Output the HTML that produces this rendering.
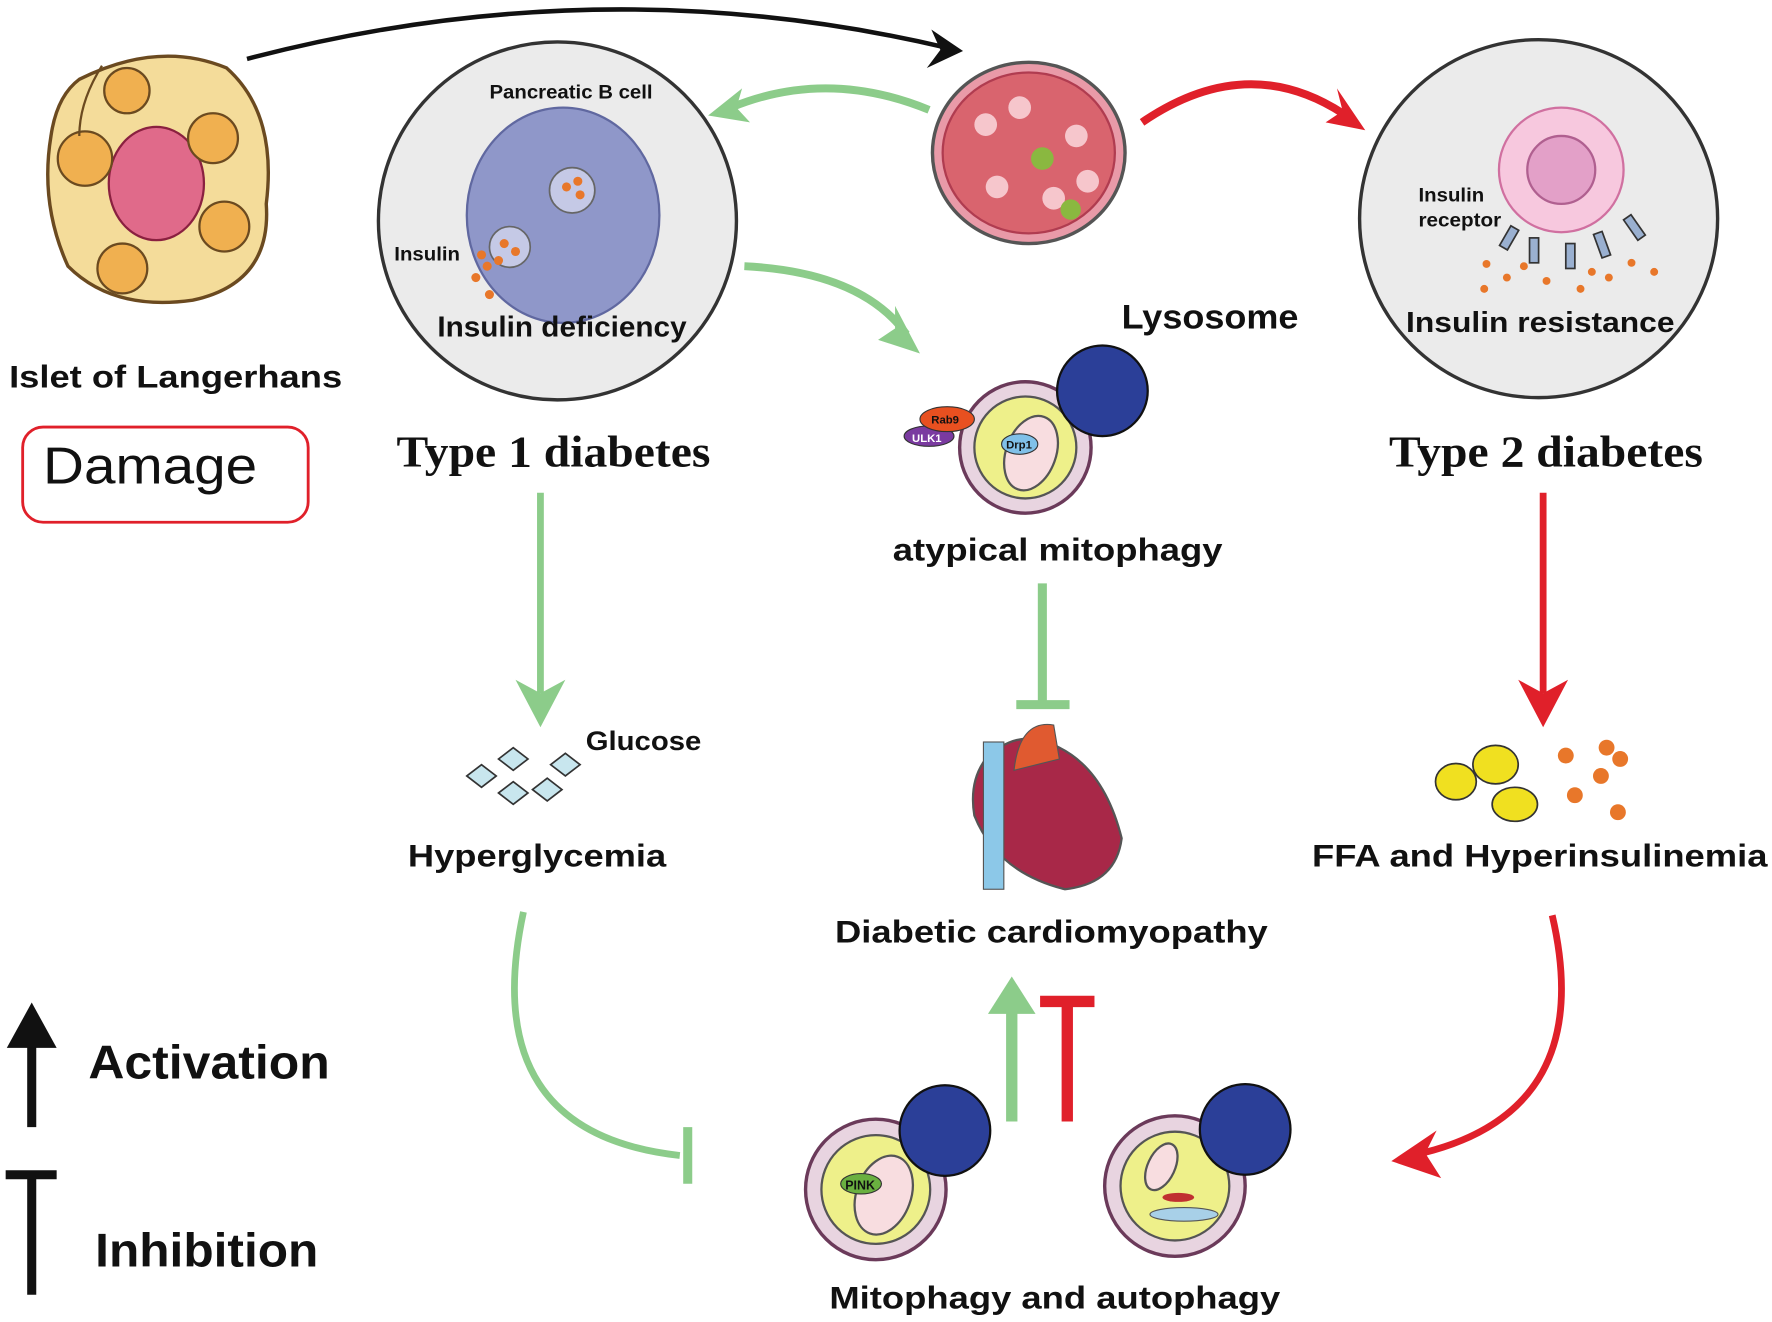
<!DOCTYPE html>
<html><head><meta charset="utf-8"><style>
html,body{margin:0;padding:0;background:#fff;}
svg{display:block;}
text{font-family:"Liberation Sans",sans-serif;font-weight:bold;fill:#111;}
.serif{font-family:"Liberation Serif",serif;}
</style></head><body>
<svg width="1772" height="1322" viewBox="0 0 1564 1167" preserveAspectRatio="none">
<!-- top black arrow -->
<path d="M218,52 Q530,-30 835,42" fill="none" stroke="#111" stroke-width="4"/>
<path d="M850,45 L822,26 L830,44 L818,60z" fill="#111"/>
<!-- islet -->
<path d="M70,70 Q140,35 200,60 Q245,100 235,180 Q240,250 170,265 Q100,275 60,235 Q35,180 45,120 Q50,85 70,70z" fill="#f4dc9a" stroke="#6b4a20" stroke-width="3"/>
<ellipse cx="138" cy="162" rx="42" ry="50" fill="#e06a8a" stroke="#8a2040" stroke-width="2"/>
<circle cx="75" cy="140" r="24" fill="#f0b050" stroke="#6b4a20" stroke-width="2"/>
<circle cx="188" cy="122" r="22" fill="#f0b050" stroke="#6b4a20" stroke-width="2"/>
<circle cx="198" cy="200" r="22" fill="#f0b050" stroke="#6b4a20" stroke-width="2"/>
<circle cx="108" cy="237" r="22" fill="#f0b050" stroke="#6b4a20" stroke-width="2"/>
<circle cx="112" cy="80" r="20" fill="#f0b050" stroke="#6b4a20" stroke-width="2"/>
<path d="M90,58 Q70,90 70,120" fill="none" stroke="#6b4a20" stroke-width="2"/>
<text x="8" y="342" font-size="28" textLength="294" lengthAdjust="spacingAndGlyphs">Islet of Langerhans</text>
<rect x="20" y="377" width="252" height="84" rx="18" fill="#fff" stroke="#e0202a" stroke-width="2.5"/>
<text x="38" y="427" font-size="46" style="font-weight:normal" textLength="189" lengthAdjust="spacingAndGlyphs">Damage</text>
<!-- T1 circle -->
<circle cx="492" cy="195" r="158" fill="#ebebeb" stroke="#333" stroke-width="3"/>
<ellipse cx="497" cy="190" rx="85" ry="95" fill="#8f97c9" stroke="#6068a0" stroke-width="2"/>
<circle cx="505" cy="168" r="20" fill="#c5c9e6" stroke="#666" stroke-width="1.5"/>
<circle cx="450" cy="218" r="18" fill="#c5c9e6" stroke="#666" stroke-width="1.5"/>
<g fill="#e8772a"><circle cx="500" cy="165" r="4"/><circle cx="510" cy="160" r="4"/><circle cx="512" cy="172" r="4"/><circle cx="445" cy="215" r="4"/><circle cx="455" cy="222" r="4"/><circle cx="430" cy="235" r="4"/><circle cx="440" cy="230" r="4"/><circle cx="420" cy="245" r="4"/><circle cx="432" cy="260" r="4"/><circle cx="425" cy="225" r="4"/></g>
<text x="432" y="87" font-size="17" textLength="144" lengthAdjust="spacingAndGlyphs">Pancreatic B cell</text>
<text x="348" y="230" font-size="17" textLength="58" lengthAdjust="spacingAndGlyphs">Insulin</text>
<text x="386" y="297" font-size="25" textLength="220" lengthAdjust="spacingAndGlyphs">Insulin deficiency</text>
<text x="350" y="412" font-size="39" class="serif" textLength="277" lengthAdjust="spacingAndGlyphs">Type 1 diabetes</text>
<!-- green arrow top -->
<path d="M820,97 Q730,60 645,95" fill="none" stroke="#8ccc8a" stroke-width="7"/>
<path d="M625,102 L655,78 L650,95 L662,108z" fill="#8ccc8a"/>
<!-- tissue -->
<ellipse cx="908" cy="135" rx="85" ry="80" fill="#e99aa8" stroke="#555" stroke-width="3"/>
<ellipse cx="908" cy="135" rx="76" ry="71" fill="#d9646e" stroke="#b03c50" stroke-width="2"/>
<g fill="#f6c6cc"><circle cx="870" cy="110" r="10"/><circle cx="900" cy="95" r="10"/><circle cx="950" cy="120" r="10"/><circle cx="880" cy="165" r="10"/><circle cx="930" cy="175" r="10"/><circle cx="960" cy="160" r="10"/></g>
<g fill="#8ab840"><circle cx="920" cy="140" r="10"/><circle cx="945" cy="185" r="9"/></g>
<!-- red arrow top -->
<path d="M1008,108 Q1100,45 1185,100" fill="none" stroke="#e0202a" stroke-width="7"/>
<path d="M1205,115 L1170,108 L1185,98 L1180,78z" fill="#e0202a"/>
<!-- T2 circle -->
<circle cx="1358" cy="193" r="158" fill="#ebebeb" stroke="#333" stroke-width="3"/>
<circle cx="1378" cy="150" r="55" fill="#f7c8de" stroke="#d070a0" stroke-width="2"/>
<circle cx="1378" cy="150" r="30" fill="#e3a0c8" stroke="#b06090" stroke-width="2"/>
<g fill="#9ab0d0" stroke="#333" stroke-width="1.5"><rect x="1328" y="200" width="8" height="20" transform="rotate(30 1332 210)"/><rect x="1350" y="210" width="8" height="22"/><rect x="1382" y="215" width="8" height="22"/><rect x="1410" y="205" width="8" height="22" transform="rotate(-20 1414 216)"/><rect x="1438" y="190" width="8" height="22" transform="rotate(-35 1442 200)"/></g>
<g fill="#e8772a"><circle cx="1312" cy="233" r="3.5"/><circle cx="1330" cy="245" r="3.5"/><circle cx="1345" cy="235" r="3.5"/><circle cx="1310" cy="255" r="3.5"/><circle cx="1365" cy="248" r="3.5"/><circle cx="1395" cy="255" r="3.5"/><circle cx="1420" cy="245" r="3.5"/><circle cx="1440" cy="232" r="3.5"/><circle cx="1460" cy="240" r="3.5"/><circle cx="1405" cy="240" r="3.5"/></g>
<text x="1252" y="178" font-size="17" textLength="58" lengthAdjust="spacingAndGlyphs">Insulin</text>
<text x="1252" y="200" font-size="17" textLength="73" lengthAdjust="spacingAndGlyphs">receptor</text>
<text x="1241" y="293" font-size="25" textLength="237" lengthAdjust="spacingAndGlyphs">Insulin resistance</text>
<text x="1226" y="412" font-size="39" class="serif" textLength="277" lengthAdjust="spacingAndGlyphs">Type 2 diabetes</text>
<!-- green arrow to mitophagy -->
<path d="M657,235 Q760,240 800,295" fill="none" stroke="#8ccc8a" stroke-width="7"/>
<path d="M812,312 L775,300 L790,290 L790,270z" fill="#8ccc8a"/>
<text x="990" y="290" font-size="30" textLength="156" lengthAdjust="spacingAndGlyphs">Lysosome</text>
<!-- atypical mitophagy -->
<circle cx="905" cy="395" r="58" fill="#e8d4e0" stroke="#6b3a5a" stroke-width="3"/>
<circle cx="905" cy="395" r="45" fill="#eef08a" stroke="#555" stroke-width="2"/>
<ellipse cx="910" cy="400" rx="22" ry="34" fill="#f8dde0" stroke="#555" stroke-width="2" transform="rotate(20 910 400)"/>
<circle cx="973" cy="345" r="40" fill="#2b3f98" stroke="#111" stroke-width="2"/>
<ellipse cx="820" cy="385" rx="22" ry="9" fill="#7a3aa0" stroke="#333"/>
<ellipse cx="836" cy="370" rx="24" ry="11" fill="#e85020" stroke="#333"/>
<ellipse cx="900" cy="392" rx="16" ry="9" fill="#80c0e8" stroke="#333"/>
<text x="822" y="374" font-size="10">Rab9</text>
<text x="805" y="390" font-size="10" style="fill:#fff">ULK1</text>
<text x="888" y="396" font-size="10">Drp1</text>
<text x="788" y="495" font-size="28" textLength="291" lengthAdjust="spacingAndGlyphs">atypical mitophagy</text>
<!-- green inhibition -->
<line x1="920" y1="515" x2="920" y2="622" stroke="#8ccc8a" stroke-width="8"/>
<line x1="897" y1="622" x2="944" y2="622" stroke="#8ccc8a" stroke-width="8"/>
<!-- green down arrow -->
<line x1="477" y1="435" x2="477" y2="612" stroke="#8ccc8a" stroke-width="6"/>
<path d="M477,642 L455,600 L477,612 L499,600z" fill="#8ccc8a"/>
<!-- glucose -->
<g fill="#c8e6ee" stroke="#333" stroke-width="1.5">
<path d="M412,685 L425,675 L438,685 L425,695z"/><path d="M440,670 L453,660 L466,670 L453,680z"/><path d="M440,700 L453,690 L466,700 L453,710z"/><path d="M470,697 L483,687 L496,697 L483,707z"/><path d="M486,675 L499,665 L512,675 L499,685z"/>
</g>
<text x="517" y="662" font-size="24" textLength="102" lengthAdjust="spacingAndGlyphs">Glucose</text>
<text x="360" y="765" font-size="28" textLength="228" lengthAdjust="spacingAndGlyphs">Hyperglycemia</text>
<!-- heart -->
<path d="M870,670 Q900,640 935,660 Q975,680 990,740 Q985,780 940,785 Q880,770 860,720 Q855,690 870,670z" fill="#a82848" stroke="#555" stroke-width="2"/>
<rect x="868" y="655" width="18" height="130" fill="#8cc8e8" stroke="#555"/>
<path d="M895,680 Q900,635 930,640 L935,670z" fill="#e05a30" stroke="#555"/>
<text x="737" y="832" font-size="28" textLength="382" lengthAdjust="spacingAndGlyphs">Diabetic cardiomyopathy</text>
<!-- red down arrow -->
<line x1="1362" y1="435" x2="1362" y2="612" stroke="#e0202a" stroke-width="6"/>
<path d="M1362,642 L1340,600 L1362,612 L1384,600z" fill="#e0202a"/>
<!-- fat -->
<g fill="#f0e020" stroke="#333" stroke-width="1.5"><ellipse cx="1285" cy="690" rx="18" ry="16"/><ellipse cx="1320" cy="675" rx="20" ry="17"/><ellipse cx="1337" cy="710" rx="20" ry="15"/></g>
<g fill="#e8772a"><circle cx="1382" cy="667" r="7"/><circle cx="1418" cy="660" r="7"/><circle cx="1430" cy="670" r="7"/><circle cx="1413" cy="685" r="7"/><circle cx="1390" cy="702" r="7"/><circle cx="1428" cy="717" r="7"/></g>
<text x="1158" y="765" font-size="28" textLength="402" lengthAdjust="spacingAndGlyphs">FFA and Hyperinsulinemia</text>
<!-- green curve -->
<path d="M462,805 Q420,1000 600,1020" fill="none" stroke="#8ccc8a" stroke-width="6"/>
<line x1="607" y1="995" x2="607" y2="1045" stroke="#8ccc8a" stroke-width="8"/>
<!-- red curve -->
<path d="M1370,808 Q1410,980 1255,1018" fill="none" stroke="#e0202a" stroke-width="6"/>
<path d="M1228,1025 L1268,998 L1258,1018 L1272,1040z" fill="#e0202a"/>
<!-- up arrow green & red T -->
<line x1="893" y1="990" x2="893" y2="885" stroke="#8ccc8a" stroke-width="10"/>
<path d="M893,862 L872,895 L914,895z" fill="#8ccc8a"/>
<line x1="942" y1="990" x2="942" y2="885" stroke="#e0202a" stroke-width="10"/>
<line x1="918" y1="884" x2="966" y2="884" stroke="#e0202a" stroke-width="10"/>
<!-- bottom mitophagy -->
<circle cx="773" cy="1050" r="62" fill="#e8d4e0" stroke="#6b3a5a" stroke-width="3"/>
<circle cx="773" cy="1050" r="48" fill="#eef08a" stroke="#555" stroke-width="2"/>
<ellipse cx="780" cy="1055" rx="24" ry="36" fill="#f8dde0" stroke="#555" stroke-width="2" transform="rotate(20 780 1055)"/>
<ellipse cx="760" cy="1045" rx="18" ry="9" fill="#6ab040" stroke="#333"/>
<text x="746" y="1050" font-size="11">PINK</text>
<circle cx="834" cy="998" r="40" fill="#2b3f98" stroke="#111" stroke-width="2"/>
<circle cx="1037" cy="1047" r="62" fill="#e8d4e0" stroke="#6b3a5a" stroke-width="3"/>
<circle cx="1037" cy="1047" r="48" fill="#eef08a" stroke="#555" stroke-width="2"/>
<ellipse cx="1025" cy="1030" rx="12" ry="22" fill="#f8dde0" stroke="#555" stroke-width="2" transform="rotate(25 1025 1030)"/>
<ellipse cx="1045" cy="1072" rx="30" ry="6" fill="#a8d0e8" stroke="#555"/>
<ellipse cx="1040" cy="1057" rx="14" ry="4" fill="#c03030"/>
<circle cx="1099" cy="997" r="40" fill="#2b3f98" stroke="#111" stroke-width="2"/>
<text x="732" y="1155" font-size="28" textLength="398" lengthAdjust="spacingAndGlyphs">Mitophagy and autophagy</text>
<!-- legend -->
<line x1="28" y1="995" x2="28" y2="915" stroke="#111" stroke-width="8"/>
<path d="M28,885 L6,925 L50,925z" fill="#111"/>
<text x="78" y="952" font-size="42" textLength="213" lengthAdjust="spacingAndGlyphs">Activation</text>
<line x1="28" y1="1037" x2="28" y2="1143" stroke="#111" stroke-width="8"/>
<line x1="5" y1="1037" x2="50" y2="1037" stroke="#111" stroke-width="8"/>
<text x="84" y="1118" font-size="42" textLength="197" lengthAdjust="spacingAndGlyphs">Inhibition</text>
</svg>
</body></html>
